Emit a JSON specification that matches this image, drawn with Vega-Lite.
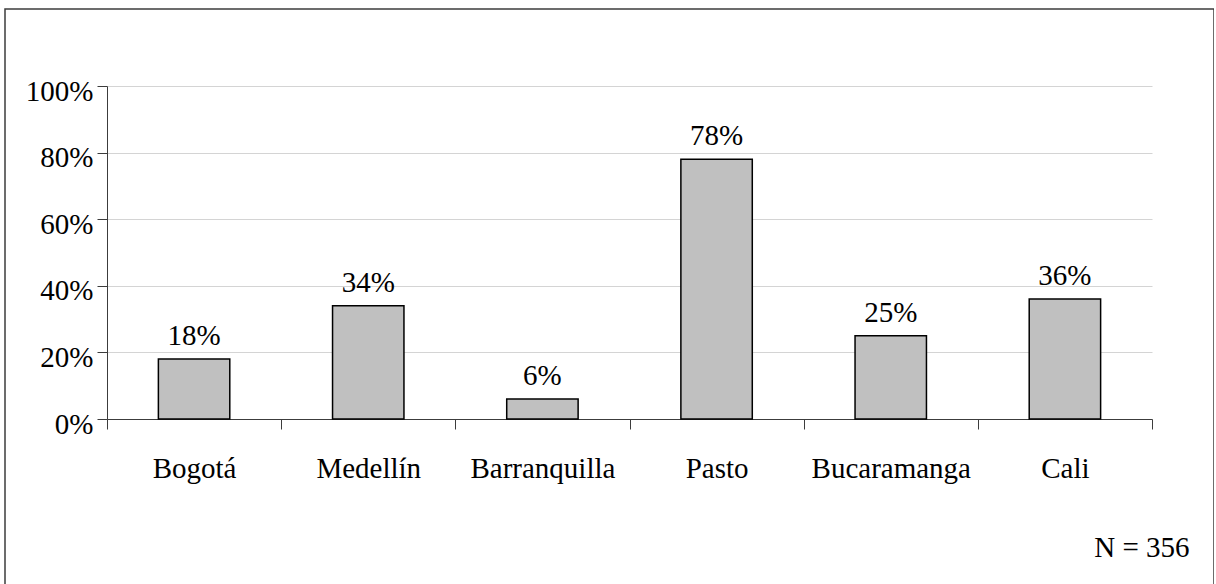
{
  "$schema": "https://vega.github.io/schema/vega-lite/v6.json",
  "width": 1209,
  "height": 580,
  "padding": {"left": 5, "top": 9, "right": 0, "bottom": 0},
  "background": "white",
  "config": {
    "font": "Liberation Serif",
    "view": {"stroke": "#3c3c3c", "strokeWidth": 1.5},
    "text": {"font": "Liberation Serif"}
  },
  "data": {
    "values": [
      {"ciudad": "Bogotá", "valor": 0.18},
      {"ciudad": "Medellín", "valor": 0.34},
      {"ciudad": "Barranquilla", "valor": 0.06},
      {"ciudad": "Pasto", "valor": 0.78},
      {"ciudad": "Bucaramanga", "valor": 0.25},
      {"ciudad": "Cali", "valor": 0.36}
    ]
  },
  "encoding": {
    "x": {
      "field": "ciudad",
      "type": "nominal",
      "sort": null,
      "scale": {"range": [102, 1147], "paddingInner": 0, "paddingOuter": 0},
      "axis": {
        "tickBand": "extent",
        "offset": -170,
        "domainColor": "#3c3c3c",
        "tickColor": "#3c3c3c",
        "tickSize": 10,
        "labelAngle": 0,
        "labelFont": "Liberation Serif",
        "labelFontSize": 29,
        "labelColor": "#000000",
        "labelBaseline": "alphabetic",
        "labelPadding": 48,
        "grid": false,
        "title": "N = 356",
        "titleFont": "Liberation Serif",
        "titleFontSize": 29,
        "titleFontWeight": "normal",
        "titleColor": "#000000",
        "titleX": 1184,
        "titleY": 137,
        "titleAlign": "right",
        "titleBaseline": "alphabetic",
        "titleAngle": 0
      }
    },
    "y": {
      "field": "valor",
      "type": "quantitative",
      "scale": {"domain": [0, 1], "range": [410, 77]},
      "axis": {
        "values": [0, 0.2, 0.4, 0.6, 0.8, 1],
        "format": ".0%",
        "offset": -102,
        "grid": true,
        "gridColor": "#d4d4d4",
        "gridWidth": 1,
        "domainColor": "#3c3c3c",
        "tickColor": "#3c3c3c",
        "tickSize": 10,
        "labelPadding": 4,
        "labelFont": "Liberation Serif",
        "labelFontSize": 29,
        "labelColor": "#000000",
        "labelBaseline": "alphabetic",
        "labelOffset": 14,
        "title": null
      }
    }
  },
  "layer": [
    {
      "mark": {"type": "bar", "width": {"band": 0.41}, "fill": "#c0c0c0", "stroke": "#000000", "strokeWidth": 1.5}
    },
    {
      "mark": {"type": "text", "baseline": "alphabetic", "dy": -14, "fontSize": 29, "color": "#000000"},
      "encoding": {
        "text": {"field": "valor", "type": "quantitative", "format": ".0%"}
      }
    }
  ]
}
